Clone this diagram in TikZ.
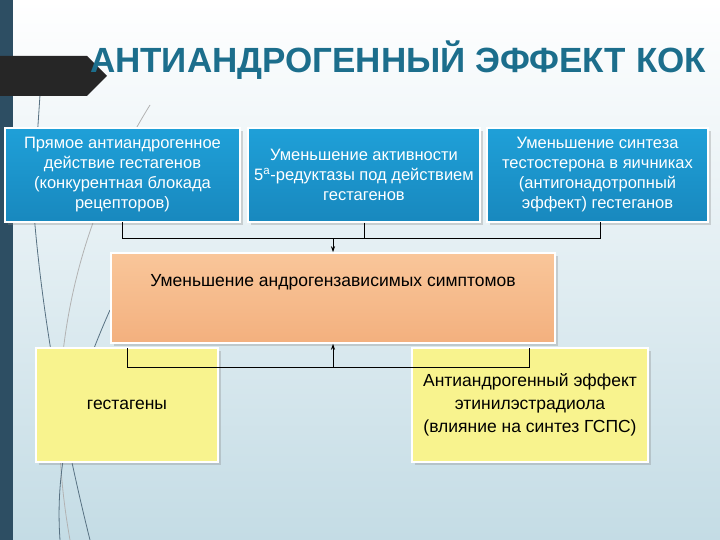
\documentclass[tikz,border=0pt]{standalone}
\usepackage{fontspec}
\setmainfont{Liberation Sans}
\usetikzlibrary{arrows.meta,shadows}
\definecolor{bar}{HTML}{2D4E63}
\definecolor{ttl}{HTML}{1C6E8C}
\definecolor{blu}{HTML}{1FA0D8}
\definecolor{bludk}{HTML}{1888BE}
\definecolor{org}{HTML}{F9C69A}
\definecolor{orgdk}{HTML}{F3B07E}
\definecolor{yel}{HTML}{F8F38E}
\definecolor{bgb}{HTML}{C4DCE5}
\tikzset{
  bluebox/.style={rectangle,draw=white,line width=1.5pt,top color=blu,bottom color=bludk,text=white,align=center,font=\fontsize{16.5}{20}\selectfont,inner sep=1pt,drop shadow={opacity=0.3}},
  orgbox/.style={rectangle,draw=white,line width=1.5pt,top color=org,bottom color=orgdk,text=black,align=center,font=\fontsize{17.5}{21}\selectfont,drop shadow={opacity=0.3}},
  yelbox/.style={rectangle,draw=white,line width=1.5pt,fill=yel,text=black,align=center,font=\fontsize{17.5}{23}\selectfont,inner sep=1pt,drop shadow={opacity=0.3}},
  link/.style={line width=1pt,black},
  deco/.style={line width=0.8pt,bar!80}
}
\begin{document}
\begin{tikzpicture}[x=1pt,y=-1pt]
\useasboundingbox (0,0) rectangle (720,540);
\shade[top color=white,bottom color=bgb] (0,0) rectangle (720,540);
\fill[bar] (0,0) rectangle (13,540);
\draw[deco] (40,95) -- (33,200) .. controls (40,300) and (60,420) .. (90,540);
\draw[deco,gray!60] (150,105) .. controls (60,250) and (45,400) .. (70,540);
\draw[deco] (110,310) .. controls (70,400) and (55,470) .. (60,540);
\fill[black!85] (0,56) -- (87,56) -- (107,76) -- (87,96) -- (0,96) -- cycle;
\node[font=\fontsize{35}{38}\selectfont\bfseries,text=ttl,anchor=center] (title) at (398,60) {АНТИАНДРОГЕННЫЙ ЭФФЕКТ КОК};
\node[bluebox,minimum width=235,minimum height=94] (b1) at (122.5,175) {Прямое антиандрогенное\\действие гестагенов\\(конкурентная блокада\\рецепторов)};
\node[bluebox,minimum width=232,minimum height=94] (b2) at (364,175) {Уменьшение активности\\5\textsuperscript{а}-редуктазы под действием\\гестагенов};
\node[bluebox,minimum width=221,minimum height=94] (b3) at (597.5,175) {Уменьшение синтеза\\тестостерона в яичниках\\(антигонадотропный\\эффект) гестеганов};
\node[orgbox,minimum width=444,minimum height=90] (o) at (333,298) {Уменьшение андрогензависимых симптомов\\[8pt]\strut};
\node[yelbox,minimum width=182,minimum height=114] (y1) at (127,405) {гестагены};
\node[yelbox,minimum width=236,minimum height=114] (y2) at (530,405) {Антиандрогенный эффект\\этинилэстрадиола\\(влияние на синтез ГСПС)};
\coordinate (j1) at (122,238);
\coordinate (j3) at (600,238);
\coordinate (jm) at (333,238);
\draw[link] (122,222) -- (j1) -- (j3) -- (600,222);
\draw[link] (b2.south) -- (364,238);
\draw[link,-{Stealth[length=6pt,width=4pt]}] (jm) -- (o.north);
\coordinate (k1) at (127,367);
\coordinate (k2) at (529,367);
\coordinate (km) at (333,367);
\draw[link] (127,348) -- (k1) -- (k2) -- (529,348);
\draw[link,-{Stealth[length=6pt,width=4pt]}] (km) -- (o.south);
\end{tikzpicture}
\end{document}
